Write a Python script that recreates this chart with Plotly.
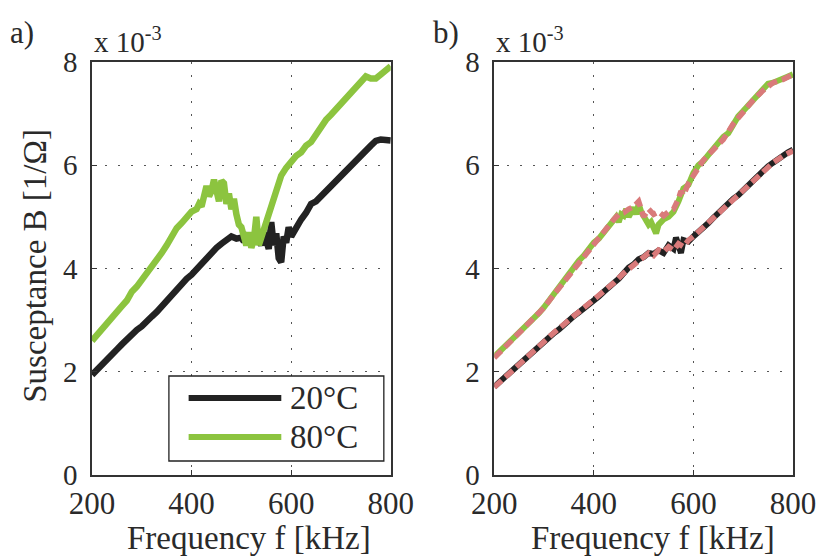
import plotly.graph_objects as go

# ---------------- data ----------------
# Panel a) 20°C
f_a20 = [200,210,220,230,240,250,260,270,280,290,300,310,320,330,340,350,360,370,380,390,
         400,410,420,430,440,450,460,470,480,490,500,505,510,515,520,525,530,535,540,545,
         550,555,560,565,570,575,580,585,590,595,600,610,620,630,640,650,660,670,680,690,
         700,710,720,730,740,750,760,770,780,790,800]
b_a20 = [1.94,2.03,2.12,2.24,2.33,2.43,2.53,2.63,2.70,2.81,2.88,2.99,3.07,3.16,3.27,3.38,3.50,3.58,3.70,3.80,
         3.88,3.99,4.10,4.20,4.30,4.40,4.48,4.57,4.62,4.58,4.60,4.52,4.61,4.55,4.48,4.62,4.50,4.58,4.45,4.70,
         4.55,4.38,4.90,4.45,4.68,4.20,4.12,4.62,4.50,4.80,4.62,4.80,4.95,5.08,5.25,5.30,5.40,5.52,5.58,5.68,
         5.78,5.88,6.00,6.08,6.20,6.28,6.38,6.47,6.50,6.49,6.48]
# Panel a) 80°C
f_a80 = [200,210,220,230,240,250,260,270,280,290,300,310,320,330,340,350,360,370,380,390,
         400,410,415,420,425,430,435,440,445,450,455,460,465,470,475,480,485,490,495,500,
         505,510,515,520,525,530,535,540,545,550,560,570,580,590,600,610,620,630,640,650,
         660,670,680,690,700,710,720,730,740,750,760,770,780,790,800]
b_a80 = [2.60,2.72,2.82,2.95,3.05,3.15,3.27,3.38,3.55,3.65,3.78,3.88,4.00,4.12,4.30,4.45,4.62,4.78,4.88,5.00,
         5.10,5.15,5.25,5.20,5.45,5.60,5.40,5.50,5.72,5.55,5.30,5.70,5.65,5.25,5.45,5.15,5.35,5.05,4.85,4.80,
         4.60,4.45,4.70,4.40,4.55,5.00,4.45,4.60,4.75,4.90,5.15,5.45,5.80,5.95,6.08,6.18,6.25,6.38,6.45,6.60,
         6.72,6.88,6.98,7.08,7.18,7.28,7.38,7.48,7.58,7.72,7.68,7.68,7.76,7.84,7.92]

# Panel b) measured 20°C
f_b20 = [200,210,220,230,240,250,260,270,280,290,300,310,320,330,340,350,360,370,380,390,
         400,410,420,430,440,450,460,470,480,490,500,510,520,530,540,550,560,565,570,575,
         580,590,600,610,620,630,640,650,660,670,680,690,700,710,720,730,740,750,760,770,
         780,790,800]
b_b20 = [1.71,1.80,1.88,1.97,2.05,2.14,2.23,2.32,2.42,2.50,2.60,2.68,2.75,2.82,2.92,3.00,3.08,3.15,3.22,3.30,
         3.36,3.46,3.55,3.62,3.72,3.80,3.92,4.02,4.08,4.18,4.22,4.30,4.28,4.35,4.30,4.45,4.38,4.60,4.45,4.30,
         4.55,4.52,4.62,4.70,4.78,4.88,4.98,5.08,5.15,5.26,5.35,5.42,5.52,5.62,5.70,5.80,5.90,5.98,6.05,6.12,
         6.20,6.25,6.30]
# Panel b) model 20°C
f_m20 = [200,220,240,260,280,300,320,340,360,380,400,420,440,460,480,500,510,520,530,540,
         550,560,570,580,590,600,620,640,660,680,700,720,740,760,780,800]
b_m20 = [1.70,1.88,2.06,2.24,2.42,2.59,2.76,2.92,3.08,3.23,3.37,3.55,3.72,3.91,4.07,4.20,4.30,4.25,4.36,4.32,
         4.42,4.35,4.48,4.42,4.55,4.62,4.80,4.98,5.16,5.34,5.52,5.70,5.88,6.05,6.18,6.28]

# Panel b) measured 80°C
f_b80 = [200,210,220,230,240,250,260,270,280,290,300,310,320,330,340,350,360,370,380,390,
         400,410,420,430,440,445,450,455,460,465,470,475,480,485,490,495,500,505,510,515,
         520,525,530,540,550,560,570,580,590,600,610,620,630,640,650,660,670,680,690,700,
         710,720,730,740,750,760,770,780,790,800]
b_b80 = [2.29,2.38,2.47,2.56,2.66,2.75,2.84,2.93,3.03,3.14,3.25,3.38,3.52,3.62,3.74,3.88,4.02,4.15,4.25,4.38,
         4.50,4.58,4.70,4.82,4.92,5.00,4.90,5.05,5.02,5.15,5.00,5.10,5.18,5.05,5.25,5.10,5.02,4.95,4.85,4.90,
         4.75,4.68,4.85,4.95,5.00,5.10,5.30,5.55,5.62,5.85,6.00,6.08,6.20,6.32,6.42,6.55,6.62,6.80,6.95,7.05,
         7.15,7.25,7.35,7.45,7.58,7.60,7.63,7.68,7.72,7.76]
# Panel b) model 80°C
f_m80 = [200,220,240,260,280,300,320,340,360,380,400,420,430,440,450,460,470,480,490,500,
         510,520,530,540,550,560,570,575,580,590,600,620,640,650,660,680,700,720,740,760,
         780,800]
b_m80 = [2.27,2.46,2.66,2.84,3.04,3.24,3.50,3.74,4.02,4.26,4.50,4.72,4.85,4.95,5.05,5.08,5.15,5.20,5.30,5.00,
         5.15,5.05,5.10,5.02,5.10,5.15,5.35,5.50,5.42,5.65,5.80,6.10,6.30,6.42,6.50,6.80,7.05,7.26,7.45,7.60,
         7.66,7.76]

x_ticks = [200, 400, 600, 800]
y_ticks = [0, 2, 4, 6, 8]
legend_labels = ["20°C", "80°C"]

BLACK = "#222222"
GREEN = "#8cc43f"
PINK = "#d97a7a"
FONT = "Liberation Serif"
TXT = "#2a2a2a"

fig = go.Figure()
fig.add_trace(go.Scatter(x=f_a20, y=b_a20, mode="lines", line=dict(color=BLACK, width=6.5),
                         xaxis="x", yaxis="y", showlegend=False))
fig.add_trace(go.Scatter(x=f_a80, y=b_a80, mode="lines", line=dict(color=GREEN, width=6.5),
                         xaxis="x", yaxis="y", showlegend=False))
fig.add_trace(go.Scatter(x=f_b80, y=b_b80, mode="lines", line=dict(color=GREEN, width=6),
                         xaxis="x2", yaxis="y2", showlegend=False))
fig.add_trace(go.Scatter(x=f_b20, y=b_b20, mode="lines", line=dict(color=BLACK, width=6),
                         xaxis="x2", yaxis="y2", showlegend=False))
fig.add_trace(go.Scatter(x=f_m80, y=b_m80, mode="lines", line=dict(color=PINK, width=5.5, dash="10px,5px"),
                         xaxis="x2", yaxis="y2", showlegend=False))
fig.add_trace(go.Scatter(x=f_m20, y=b_m20, mode="lines", line=dict(color=PINK, width=5.5, dash="10px,5px"),
                         xaxis="x2", yaxis="y2", showlegend=False))

W, H = 828, 556
L, R, T, B = 92, 25, 62, 81
pw = W - L - R
ph = H - T - B

axis_common = dict(
    showline=True, linecolor="#333333", linewidth=1.5, mirror=True,
    ticks="inside", ticklen=5, tickcolor="#333333",
    showgrid=True, gridcolor="#555555", gridwidth=1.3, griddash="2px,11px",
    zeroline=False,
)
xa = dict(axis_common, range=[200, 800], tickvals=x_ticks, ticktext=[str(v) for v in x_ticks],
          ticklabelstandoff=0, tickfont=dict(family=FONT, size=31, color=TXT))
ya = dict(axis_common, range=[0, 8], tickvals=y_ticks, ticktext=[str(v) for v in y_ticks],
          ticklabelstandoff=7, tickfont=dict(family=FONT, size=29, color=TXT))

d_a = [0, 303 / pw]
d_b = [(500 - L) / pw, 1]
fig.update_layout(
    width=W, height=H,
    margin=dict(l=L, r=R, t=T, b=B),
    paper_bgcolor="white", plot_bgcolor="white",
    xaxis=dict(xa, domain=d_a, anchor="y"),
    yaxis=dict(ya, domain=[0, 1], anchor="x"),
    xaxis2=dict(xa, domain=d_b, anchor="y2"),
    yaxis2=dict(ya, domain=[0, 1], anchor="x2"),
    showlegend=False,
    font=dict(family=FONT, color=TXT),
)

def px_x(p):
    return (p - L) / pw

def px_y(p):
    return (H - B - p) / ph

ann = []
# panel labels
ann.append(dict(text="a)", x=px_x(7), y=px_y(33), xref="paper", yref="paper",
                xanchor="left", yanchor="middle", showarrow=False, font=dict(family=FONT, size=31)))
ann.append(dict(text="b)", x=px_x(436), y=px_y(33), xref="paper", yref="paper",
                xanchor="left", yanchor="middle", showarrow=False, font=dict(family=FONT, size=31)))
# exponent labels
for xl in (92, 500):
    ann.append(dict(text="x 10<sup>-3</sup>", x=px_x(xl), y=px_y(40), xref="paper", yref="paper",
                    xanchor="left", yanchor="middle", showarrow=False, font=dict(family=FONT, size=29)))
# axis titles
for xc in (251, 661):
    ann.append(dict(text="Frequency f [kHz]", x=px_x(xc), y=px_y(538), xref="paper", yref="paper",
                    xanchor="center", yanchor="middle", showarrow=False, font=dict(family=FONT, size=33)))
ann.append(dict(text="Susceptance B [1/Ω]", x=px_x(34), y=px_y(266), xref="paper", yref="paper",
                xanchor="center", yanchor="middle", textangle=-90, showarrow=False,
                font=dict(family=FONT, size=33)))

# legend (panel a)
shapes = []
shapes.append(dict(type="rect", xref="x domain", yref="y domain",
                   x0=(170 - 92) / 303, x1=(388 - 92) / 303,
                   y0=(475 - 461) / 413, y1=(475 - 376) / 413,
                   line=dict(color="#222222", width=1.3), fillcolor="white", layer="above"))
for lbl, col, py in zip(legend_labels, [BLACK, GREEN], [398, 437]):
    yy = (475 - py) / 413
    shapes.append(dict(type="line", xref="x domain", yref="y domain",
                       x0=(190 - 92) / 303, x1=(284 - 92) / 303, y0=yy, y1=yy,
                       line=dict(color=col, width=6), layer="above"))
    ann.append(dict(text=lbl, xref="x domain", yref="y domain", x=(291 - 92) / 303, y=yy,
                    xanchor="left", yanchor="middle", showarrow=False, font=dict(family=FONT, size=33)))

fig.update_layout(annotations=ann, shapes=shapes)
fig.write_html("out.html")
